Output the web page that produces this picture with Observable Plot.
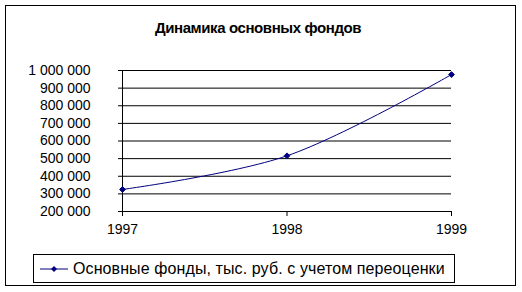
<!DOCTYPE html>
<html>
<head>
<meta charset="utf-8">
<script src="https://cdn.jsdelivr.net/npm/d3@7"></script>
<script src="https://cdn.jsdelivr.net/npm/@observablehq/plot@0.6"></script>
<style>
  html, body { margin: 0; padding: 0; background: #fff; }
  body { width: 522px; height: 292px; position: relative; overflow: hidden; font-family: "Liberation Sans", Arial, sans-serif; }
  #frame { position: absolute; left: 5px; top: 5px; width: 511px; height: 281px; box-sizing: border-box; border: 1px solid #000; }
  #title { position: absolute; left: 0; width: 516px; top: 19px; text-align: center; font-weight: bold; font-size: 15px; letter-spacing: -0.4px; color: #000; }
  #chart { position: absolute; left: 0; top: 50px; }
  #legend { position: absolute; left: 33px; top: 254px; width: 422px; height: 29px; box-sizing: border-box; border: 1px solid #000; display: flex; align-items: center; font-size: 16px; letter-spacing: 0.1px; color: #000; white-space: nowrap; }
  #legend svg { margin-left: 6px; margin-right: 5px; }
</style>
</head>
<body>
<div id="frame"></div>
<div id="title">Динамика основных фондов</div>
<div id="chart"></div>
<div id="legend"></div>
<script>
const seriesName = "Основные фонды, тыс. руб. с учетом переоценки";
const years = [1997, 1998, 1999];
const values = [325000, 516000, 977000];
const yTicks = [200000, 300000, 400000, 500000, 600000, 700000, 800000, 900000, 1000000];

const data = years.map((y, i) => ({year: y, value: values[i]}));
const fmt = d3.formatLocale({decimal: ",", thousands: "\u00a0", grouping: [3], currency: ["", ""]}).format(",");
const navy = "#000080";

const plot = Plot.plot({
  width: 522,
  height: 195,
  marginTop: 20,
  marginBottom: 34,
  marginLeft: 122,
  marginRight: 71,
  style: {fontFamily: "'Liberation Sans', Arial, sans-serif", fontSize: "14px", color: "#000", background: "transparent", overflow: "visible"},
  x: {domain: [1997, 1999], ticks: years, tickFormat: d => String(d), tickSize: 5, tickPadding: 8, label: null, line: false},
  y: {domain: [200000, 1000000], ticks: yTicks, tickFormat: fmt, tickSize: 4, tickPadding: 28, label: null},
  marks: [
    Plot.ruleY(yTicks, {stroke: "#000", strokeWidth: 1, strokeOpacity: 1}),
    Plot.ruleX([1997], {y1: 200000, y2: 1000000, stroke: "#000"}),
    Plot.axisY({ticks: yTicks, tickFormat: fmt, tickSize: 4, tickPadding: 28, label: null, stroke: "#000", strokeOpacity: 1}),
    Plot.axisX({ticks: years, tickFormat: d => String(d), tickSize: 5, tickPadding: 8, label: null, strokeOpacity: 1}),
    Plot.line(data, {x: "year", y: "value", stroke: navy, strokeWidth: 1, curve: "catmull-rom"}),
    Plot.dot(data, {x: "year", y: "value", symbol: "diamond2", fill: navy, stroke: navy, strokeWidth: 1, r: 2.6})
  ]
});
document.getElementById("chart").appendChild(plot);

const legend = document.getElementById("legend");
const sw = d3.create("svg").attr("width", 28).attr("height", 10);
sw.append("line").attr("x1", 0).attr("x2", 28).attr("y1", 5).attr("y2", 5).attr("stroke", navy).attr("stroke-width", 1);
sw.append("path").attr("d", "M0,-3L3,0L0,3L-3,0Z").attr("transform", "translate(14,5)").attr("fill", navy);
legend.appendChild(sw.node());
const lt = document.createElement("span");
lt.textContent = seriesName;
legend.appendChild(lt);
</script>
</body>
</html>
